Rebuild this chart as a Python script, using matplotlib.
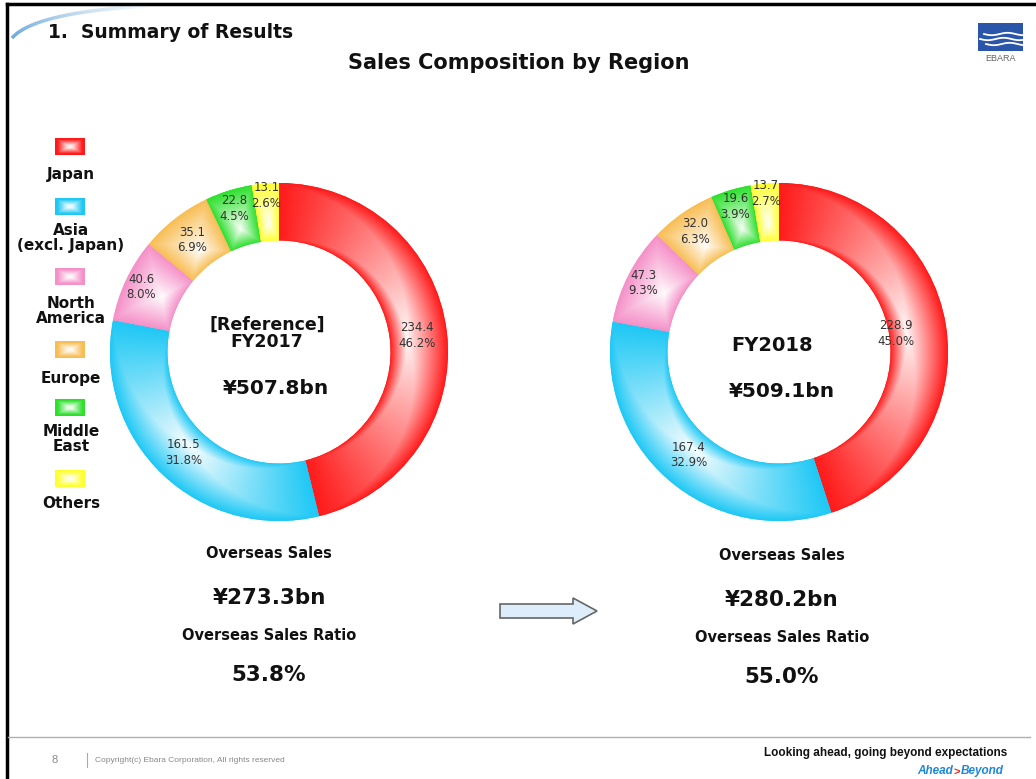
"""
Sales composition by region - two donut charts (FY2017 reference vs FY2018)
"""
import numpy as np
import matplotlib
matplotlib.use('Agg')
import matplotlib.pyplot as plt
from matplotlib.patches import Rectangle, Polygon
from matplotlib.collections import LineCollection
from matplotlib.colors import to_rgb

W, H = 1036, 779

regions = ['Japan', 'Asia\n(excl. Japan)', 'North\nAmerica', 'Europe', 'Middle\nEast', 'Others']
colors = ['#ff1a1a', '#1ec8f5', '#f590c8', '#f8be55', '#2ee02e', '#ffff30']

fy2017_sales = [234.4, 161.5, 40.6, 35.1, 22.8, 13.1]
fy2017_pct = [46.2, 31.8, 8.0, 6.9, 4.5, 2.6]
fy2018_sales = [228.9, 167.4, 47.3, 32.0, 19.6, 13.7]
fy2018_pct = [45.0, 32.9, 9.3, 6.3, 3.9, 2.7]

center_titles = ['[Reference]\nFY2017', 'FY2018']
totals = ['¥507.8bn', '¥509.1bn']
overseas = ['¥273.3bn', '¥280.2bn']
overseas_ratio = ['53.8%', '55.0%']

# label radius per slice (fraction of outer radius), style only
label_r = [[0.82, 0.82, 0.90, 0.84, 0.89, 0.93],
           [0.70, 0.81, 0.90, 0.87, 0.90, 0.94]]

TXT = '#111111'


def shade(base, s, whiten=0.97):
    """path-gradient look: base colour on the edge, near white in the middle"""
    t = np.clip(1 - s, 0, 1) * whiten
    rgb = np.array(to_rgb(base))
    return rgb * (1 - t)[..., None] + t[..., None]


fig = plt.figure(figsize=(W / 100, H / 100), dpi=100)
fig.patch.set_facecolor('white')


def donut(cx, cy, rad, values, pcts, lr):
    ax = fig.add_axes([(cx - rad) / W, 1 - (cy + rad) / H, 2 * rad / W, 2 * rad / H])
    wedges, _ = ax.pie(values, colors=colors, startangle=90, counterclock=False,
                       radius=1, wedgeprops=dict(width=0.34, linewidth=0))
    n = 500
    g = np.linspace(-1, 1, n)
    X, Y = np.meshgrid(g, g)
    R = np.hypot(X, Y)
    TH = np.degrees(np.arctan2(Y, X))
    for i, (w, c) in enumerate(zip(wedges, colors)):
        rout = w.r
        rin = w.r - w.width
        mid = (w.theta1 + w.theta2) / 2
        half = (w.theta2 - w.theta1) / 2
        dth = (TH - mid + 180) % 360 - 180
        u = np.abs(dth) / half
        rc = rin + 0.3 * (rout - rin)
        v = np.where(R >= rc, (R - rc) / (rout - rc), (rc - R) / (rc - rin))
        img = shade(c, np.maximum(u, v))
        im = ax.imshow(img, extent=(-1, 1, -1, 1), origin='lower',
                       interpolation='bilinear', zorder=2)
        im.set_clip_path(w)
        a = np.radians(mid)
        ax.text(lr[i] * np.cos(a), lr[i] * np.sin(a),
                f'{values[i]:.1f}\n{pcts[i]:.1f}%', ha='center', va='center',
                fontsize=8.5, color='#333333', linespacing=1.25, zorder=5)
    ax.set_xlim(-1, 1)
    ax.set_ylim(-1, 1)
    ax.set_aspect('equal')
    ax.axis('off')
    ax.patch.set_visible(False)
    return ax


donut(279, 352, 169, fy2017_sales, fy2017_pct, label_r[0])
donut(779, 352, 169, fy2018_sales, fy2018_pct, label_r[1])

# overlay in pixel coordinates for slide furniture and text
ov = fig.add_axes([0, 0, 1, 1])
ov.set_xlim(0, W)
ov.set_ylim(H, 0)
ov.axis('off')
ov.patch.set_visible(False)

# slide frame
ov.plot([7, 1036], [4, 4], color='black', lw=2.5)
ov.plot([7, 7], [4, H], color='black', lw=2.5)

# top-left swoosh
tt = np.linspace(0, 1, 60)
p0, p1, p2 = np.array([12, 38]), np.array([35, 12]), np.array([150, 6])
pts = ((1 - tt)[:, None] ** 2) * p0 + (2 * (1 - tt) * tt)[:, None] * p1 + (tt[:, None] ** 2) * p2
segs = np.stack([pts[:-1], pts[1:]], axis=1)
lc = LineCollection(segs, colors=[(0.36, 0.62, 0.84, 1 - x) for x in tt[:-1]],
                    linewidths=2.5)
ov.add_collection(lc)

ov.text(48, 32, '1.  Summary of Results', fontsize=13.5, fontweight='bold',
        color=TXT, ha='left', va='center')
ov.text(519, 63, 'Sales Composition by Region', fontsize=15, fontweight='bold',
        color=TXT, ha='center', va='center')

# logo
ov.add_patch(Rectangle((978, 23), 45, 28, facecolor='#2a55a8', edgecolor='none'))
for yy, x0 in [(34, 984), (39, 980), (44, 986)]:
    xs = np.linspace(x0, 1023, 30)
    ov.plot(xs, yy + 1.2 * np.sin((xs - x0) / 5), color='white', lw=1.3)
ov.text(1000, 58, 'EBARA', fontsize=6.5, color='#666666', ha='center', va='center',
        family='Liberation Sans')

# legend
leg_swatch_y = [146, 206, 276, 349, 407, 478]
leg_text_y = [174, 238, 311, 378, 439, 503]
for lab, c, sy, ty in zip(regions, colors, leg_swatch_y, leg_text_y):
    uu, vv = np.meshgrid(np.linspace(-1, 1, 40), np.linspace(-1, 1, 24))
    s = np.maximum(np.abs(uu), np.abs(vv))
    s = np.clip((s - 0.15) / 0.7, 0, 1)
    ov.imshow(shade(c, s, whiten=0.92), extent=(55, 85, sy + 8.5, sy - 8.5),
              interpolation='bilinear', zorder=3)
    ov.text(71, ty, lab, fontsize=11, fontweight='bold', color=TXT,
            ha='center', va='center', linespacing=1.05)

# centre texts
ov.text(267, 333, center_titles[0], fontsize=12.5, fontweight='bold', color=TXT,
        ha='center', va='center', linespacing=0.95)
ov.text(772, 345, center_titles[1], fontsize=14, fontweight='bold', color=TXT,
        ha='center', va='center')
ov.text(276, 388, totals[0], fontsize=14.5, fontweight='bold', color=TXT,
        ha='center', va='center')
ov.text(782, 391, totals[1], fontsize=14.5, fontweight='bold', color=TXT,
        ha='center', va='center')

# overseas figures
for x0, yoff, ovs, ratio in [(269, 0, overseas[0], overseas_ratio[0]),
                             (782, 2, overseas[1], overseas_ratio[1])]:
    ov.text(x0, 553 + yoff, 'Overseas Sales', fontsize=10.5, fontweight='bold',
            color=TXT, ha='center', va='center')
    ov.text(x0, 598 + yoff, ovs, fontsize=15.5, fontweight='bold',
            color=TXT, ha='center', va='center')
    ov.text(x0, 636 + yoff, 'Overseas Sales Ratio', fontsize=10.5, fontweight='bold',
            color=TXT, ha='center', va='center')
    ov.text(x0, 675 + yoff, ratio, fontsize=15.5, fontweight='bold',
            color=TXT, ha='center', va='center')

# arrow between the two years
arrow = Polygon([(500, 604), (573, 604), (573, 598), (597, 611), (573, 624),
                 (573, 618), (500, 618)], closed=True, facecolor='#ddeefa',
                edgecolor='#666666', lw=1.2)
ov.add_patch(arrow)

# footer
ov.plot([8, 1030], [737, 737], color='#b0b0b0', lw=1)
ov.text(55, 760, '8', fontsize=8, color='#888888', ha='center', va='center',
        family='Liberation Sans')
ov.plot([87, 87], [753, 767], color='#aaaaaa', lw=0.8)
ov.text(95, 760, 'Copyright(c) Ebara Corporation, All rights reserved', fontsize=6,
        color='#888888', ha='left', va='center', family='Liberation Sans')
ov.text(1007, 753, 'Looking ahead, going beyond expectations', fontsize=8.5,
        fontweight='bold', color=TXT, ha='right', va='center',
        family='Liberation Sans')
ov.text(953, 771, 'Ahead', fontsize=8.5, fontweight='bold', style='italic',
        color='#1e88d8', ha='right', va='center', family='Liberation Sans')
ov.text(957, 773, '>', fontsize=8, fontweight='bold', color='#e03020',
        ha='center', va='center', family='Liberation Sans')
ov.text(961, 771, 'Beyond', fontsize=8.5, fontweight='bold', style='italic',
        color='#1e88d8', ha='left', va='center', family='Liberation Sans')

fig.savefig('out.png', dpi=100)
